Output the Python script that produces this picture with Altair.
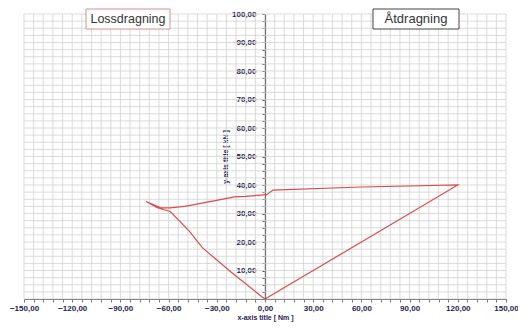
import altair as alt
import pandas as pd

# hysteresis curve (x in Nm, y in kN), in drawing order
curve_x = [0, 120, 60, 5, 1, -12, -19, -31, -50, -59, -65, -74, -67, -59, -47, -39, -21, -2, 0]
curve_y = [0, 40, 39.3, 38.2, 36.6, 36.0, 35.8, 34.5, 32.5, 32.0, 32.0, 34.2, 32.0, 30.7, 23.7, 18.0, 9.4, 0.8, 0]

x_grid = list(range(-150, 151, 6))
y_grid = [i * 2.5 for i in range(41)]
box_labels = ["Lossdragning", "Åtdragning"]

W, H = 482, 285
navy = "#1f2250"

df = pd.DataFrame({"x": curve_x, "y": curve_y, "o": list(range(len(curve_x)))})
xs = alt.Scale(domain=[-150, 150], nice=False, zero=False)
ys = alt.Scale(domain=[0, 100], nice=False, zero=False)

label_fmt = "replace(format(datum.value, '.2f'), '.', ',')"

x_axis = alt.Axis(
    values=x_grid, grid=False, domainColor="#555", tickColor="#777", tickSize=3,
    labelExpr=f"datum.value % 30 == 0 ? {label_fmt} : ''",
    labelOverlap=False, labelFlush=False, labelFont="Liberation Sans",
    labelFontWeight="bold", labelFontSize=8, labelColor=navy, labelPadding=2,
    title="x-axis title [ Nm ]", titleFont="Liberation Sans", titleFontSize=7,
    titleFontWeight="bold", titleColor=navy, titlePadding=1)
y_axis = alt.Axis(
    values=y_grid, grid=False, offset=-W / 2, domainColor="#333", domainWidth=1.2,
    tickColor="#555", tickSize=3,
    labelExpr=f"datum.value % 10 == 0 && datum.value > 0 ? {label_fmt} : ''",
    labelOverlap=False, labelFlush=False, labelFont="Liberation Sans",
    labelFontWeight="bold", labelFontSize=8, labelColor=navy, labelPadding=6,
    title="y-axis title [ kN ]", titleFont="Liberation Sans", titleFontSize=7,
    titleFontWeight="bold", titleColor=navy, titlePadding=3)

vgrid = alt.Chart(pd.DataFrame({"x": x_grid})).mark_rule(color="#d2d2d2", strokeWidth=0.8).encode(
    x=alt.X("x:Q", scale=xs, axis=x_axis))
hgrid = alt.Chart(pd.DataFrame({"y": y_grid})).mark_rule(color="#d2d2d2", strokeWidth=0.8).encode(
    y=alt.Y("y:Q", scale=ys, axis=y_axis))

line = alt.Chart(df).mark_line(color="#dd4b4b", strokeWidth=1.2).encode(
    x=alt.X("x:Q", scale=xs, axis=x_axis),
    y=alt.Y("y:Q", scale=ys, axis=y_axis),
    order="o:Q",
)


def box(label, x1, x2, stroke, size):
    d = pd.DataFrame({"t": [label]})
    r = alt.Chart(d).mark_rect(fill="white", stroke=stroke, strokeWidth=1).encode(
        x=alt.value(x1), x2=alt.value(x2), y=alt.value(-5), y2=alt.value(15))
    t = alt.Chart(d).mark_text(font="Liberation Sans", fontSize=size, color="#333",
                               align="center", baseline="middle").encode(
        x=alt.value((x1 + x2) / 2), y=alt.value(5), text="t:N")
    return r + t


chart = alt.layer(
    vgrid, hgrid, line,
    box(box_labels[0], 62, 146, "#d59090", 12.5),
    box(box_labels[1], 349, 435, "#444444", 13),
).properties(
    width=W, height=H,
    autosize=alt.AutoSizeParams(type="none"),
    padding={"left": 16, "top": 6, "right": 12, "bottom": 24},
).configure_view(stroke=None)

chart.save("out.html", embed_options={"renderer": "svg", "actions": False})
